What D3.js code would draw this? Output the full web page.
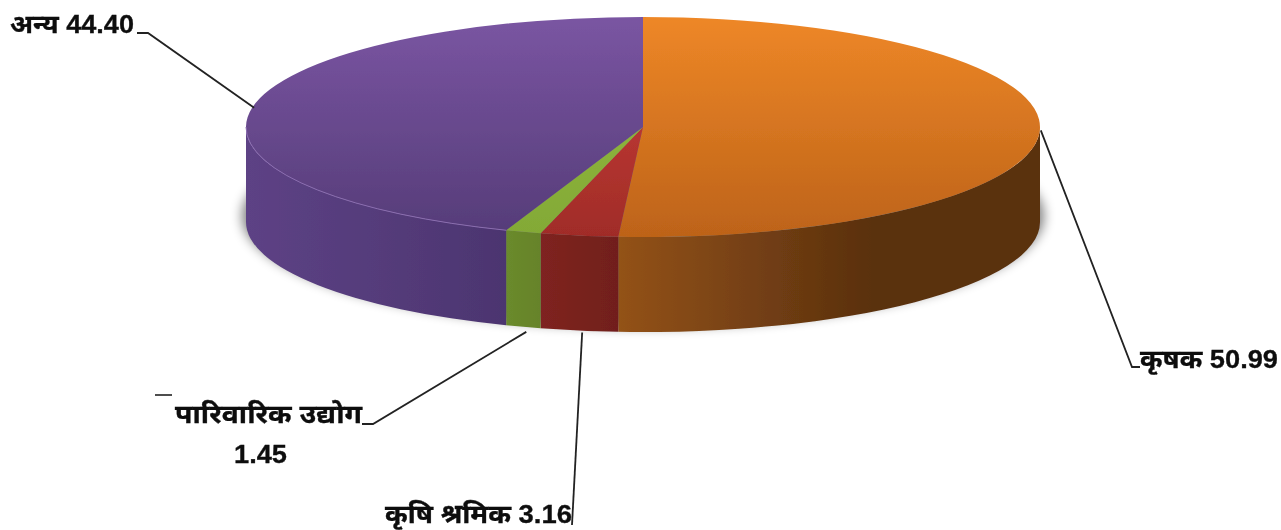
<!DOCTYPE html>
<html><head><meta charset="utf-8">
<script src="https://cdn.jsdelivr.net/npm/d3@7"></script>
<style>html,body{margin:0;padding:0;background:#fff;overflow:hidden}svg{display:block}
text{font-family:"Liberation Sans","Noto Sans","DejaVu Sans",sans-serif;font-weight:700;fill:#0c0c0c;font-size:26px;stroke:#0c0c0c;stroke-width:.3}</style>
</head><body><svg id="c" width="1281" height="530"></svg>
<script>
const categories=["कृषक","कृषि श्रमिक","पारिवारिक उद्योग","अन्य"];
const values=[50.99,3.16,1.45,44.40];
const valueLabels=["50.99","3.16","1.45","44.40"];
const topColors=[["#ee8727","#bd6319"],["#cf3f3a","#a02c28"],["#94bd40","#83a936"],["#7a55a2","#553c78"]];
const wallColors=[["#935219","#5a300e"],["#7f2320","#711f1c"],["#6a8a2d","#668329"],["#5d4285","#4c3570"]];

const cx=643,cy=127,rx=397,ry=110,depth=95;
const svg=d3.select("#c"),defs=svg.append("defs");
const f=defs.append("filter").attr("id","sh").attr("x","-5%").attr("y","-5%").attr("width","110%").attr("height","120%");
f.append("feGaussianBlur").attr("stdDeviation",6);
const soft=defs.append("filter").attr("id","soft");
soft.append("feGaussianBlur").attr("stdDeviation",0.6);

const arcs=d3.pie().sort(null).value(d=>d)(values);
const px=a=>cx+rx*Math.sin(a), py=a=>cy-ry*Math.cos(a);

arcs.forEach((d,i)=>{
  const t=defs.append("linearGradient").attr("id","t"+i)
    .attr("gradientUnits","userSpaceOnUse").attr("x1",0).attr("x2",0).attr("y1",cy-ry).attr("y2",cy+ry);
  t.append("stop").attr("offset",0).attr("stop-color",topColors[i][0]);
  t.append("stop").attr("offset",1).attr("stop-color",topColors[i][1]);
});

const root=svg.append("g").attr("filter","url(#soft)");
// shadow
root.append("ellipse").attr("cx",cx).attr("cy",cy+depth-6).attr("rx",rx+4).attr("ry",ry+1)
  .attr("fill","#000").attr("opacity",.5).attr("filter","url(#sh)");

const wall=(a0,a1)=>`M${px(a0)},${py(a0)}A${rx},${ry} 0 0 1 ${px(a1)},${py(a1)}L${px(a1)},${py(a1)+depth}A${rx},${ry} 0 0 0 ${px(a0)},${py(a0)+depth}Z`;
arcs.forEach((d,i)=>{
  const a0=Math.max(d.startAngle,Math.PI/2),a1=Math.min(d.endAngle,Math.PI*1.5);
  if(a1<=a0)return;
  const x0=px(a0),x1=px(a1),lo=Math.min(x0,x1),hi=Math.max(x0,x1);
  const g=defs.append("linearGradient").attr("id","w"+i).attr("gradientUnits","userSpaceOnUse")
    .attr("x1",lo).attr("x2",hi).attr("y1",0).attr("y2",0);
  const c=wallColors[i];
  g.append("stop").attr("offset",0).attr("stop-color",c[0]);
  if(i===0)g.append("stop").attr("offset",.6).attr("stop-color",c[1]);
  g.append("stop").attr("offset",1).attr("stop-color",c[1]);
  root.append("path").attr("d",wall(a0,a1)).attr("fill",`url(#w${i})`);
});
arcs.forEach((d,i)=>{
  const p=`M${cx},${cy}L${px(d.startAngle)},${py(d.startAngle)}A${rx},${ry} 0 ${d.endAngle-d.startAngle>Math.PI?1:0} 1 ${px(d.endAngle)},${py(d.endAngle)}Z`;
  root.append("path").attr("d",p).attr("fill",`url(#t${i})`);
});
const pu=arcs[3];
root.append("path").attr("d",`M${px(pu.startAngle)},${py(pu.startAngle)}A${rx},${ry} 0 0 1 ${px(1.5*Math.PI)},${py(1.5*Math.PI)}`)
  .attr("fill","none").attr("stroke","#8a6cb0").attr("stroke-width",1);

// leaders
const mid=d=>(d.startAngle+d.endAngle)/2;
const leaderEnds=[[[1132,367],[1140,367]],[[572,525]],[[373,424],[362,424]],[[148,33],[137,33]]];
const leaderShift=[[1,0],[3,2],[3,5],[2,0]];
const front=i=>i===1||i===2;
arcs.forEach((d,i)=>{
  const a=mid(d),st=[px(a)+leaderShift[i][0],py(a)+(front(i)?depth:0)+leaderShift[i][1]];
  root.append("path").attr("d",d3.line()([st,...leaderEnds[i]])).attr("fill","none").attr("stroke","#222").attr("stroke-width",1.8);
});
root.append("line").attr("x1",155).attr("x2",172).attr("y1",395).attr("y2",395).attr("stroke","#222").attr("stroke-width",1.6);

// labels
const lab=(x,y,s,w)=>root.append("text").attr("x",x).attr("y",y).attr("textLength",w).attr("lengthAdjust","spacingAndGlyphs").text(s);
lab(10,33,categories[3]+" "+valueLabels[3],124);
lab(1140,368,categories[0]+" "+valueLabels[0],138);
lab(175,423,categories[2],187);
lab(234,463,valueLabels[2],53);
lab(385,523,categories[1]+" "+valueLabels[1],187);
</script></body></html>
